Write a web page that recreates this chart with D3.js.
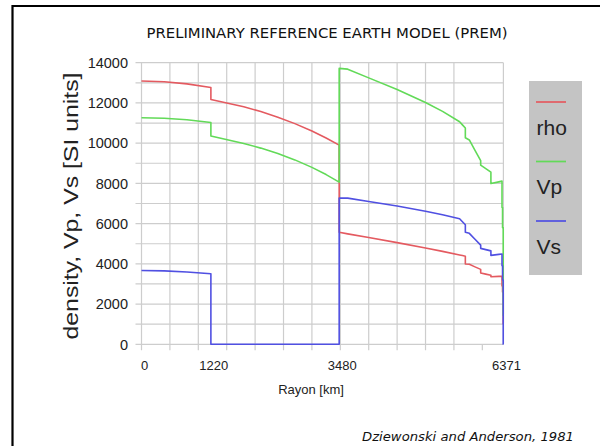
<!DOCTYPE html>
<html>
<head>
<meta charset="utf-8">
<script src="https://cdn.jsdelivr.net/npm/d3@7"></script>
<style>
  body { margin: 0; background: #fff; }
  svg { display: block; }
</style>
</head>
<body>
<svg id="chart" width="600" height="446"></svg>
<script>
// PREM samples (radius in km, values in SI units)
const radius = [0, 400, 800, 1221.5, 1221.5, 1800, 2100, 2400, 2700, 3000, 3250, 3480, 3480, 3630, 4000, 4500, 5000, 5300, 5600, 5650, 5701, 5701, 5771, 5871, 5971, 5971, 6061, 6151, 6151, 6291, 6346.6, 6346.6, 6356, 6356, 6368, 6368, 6371]
const rho = [13088, 13054, 12949, 12764, 12166, 11809, 11571, 11293, 10971, 10602, 10255, 9903, 5567, 5491, 5307, 5055, 4790, 4621, 4443, 4413, 4381, 3992, 3976, 3850, 3724, 3543, 3490, 3436, 3360, 3375, 3381, 2900, 2900, 2600, 2600, 1020, 1020]
const vp = [11262, 11237, 11162, 11028, 10356, 9986, 9754, 9484, 9168, 8796, 8438, 8065, 13717, 13680, 13245, 12665, 12025, 11578, 11066, 10910, 10751, 10266, 10158, 9646, 9134, 8905, 8732, 8559, 7990, 8076, 8111, 6800, 6800, 5800, 5800, 1450, 1450]
const vs = [3668, 3650, 3598, 3504, 0, 0, 0, 0, 0, 0, 0, 0, 7265, 7266, 7100, 6873, 6619, 6442, 6240, 6094, 5945, 5570, 5516, 5224, 4932, 4770, 4707, 4644, 4419, 4471, 4491, 3900, 3900, 3200, 3200, 0, 0]

const seriesNames = ['rho', 'Vp', 'Vs']
const seriesColors = ['#e45a60', '#62da58', '#5050e2']

const xLabelTicks = [0, 1220, 3480, 6371]
const yTicks = d3.range(0, 14001, 2000)

const svg = d3.select('#chart')

// frame
svg.append('path')
    .attr('d', 'M12.5,446 V6 H600')
    .attr('fill', 'none')
    .attr('stroke', '#000')
    .attr('stroke-width', 2.2)

let x = d3.scaleLinear().domain([0, 6371]).range([141.5, 503.4])
let y = d3.scaleLinear().domain([0, 14000]).range([344.3, 62.7])

const grid = svg.append('g')
    .attr('stroke', '#cdcdcd')
    .attr('stroke-width', 1.2)

// horizontal grid every 1000 (with small left tick)
grid.selectAll('.h')
    .data(d3.range(0, 14001, 1000))
    .enter()
    .append('line')
    .attr('x1', x(0) - 6)
    .attr('x2', x(6371))
    .attr('y1', d => y(d))
    .attr('y2', d => y(d))

// vertical grid every 500 km, ticks below axis
grid.selectAll('.v')
    .data(d3.range(0, 6001, 500))
    .enter()
    .append('line')
    .attr('x1', d => x(d))
    .attr('x2', d => x(d))
    .attr('y1', d => d > 5500 ? y(0) : y(14000))
    .attr('y2', y(0) + 6)

grid.append('line')
    .attr('x1', x(6371)).attr('x2', x(6371))
    .attr('y1', y(14000)).attr('y2', y(0))

// y tick labels
svg.append('g')
    .selectAll('text')
    .data(yTicks)
    .enter()
    .append('text')
    .attr('x', 128)
    .attr('y', d => y(d))
    .attr('dy', '0.36em')
    .attr('text-anchor', 'end')
    .style('font-family', 'Liberation Sans, Arial, sans-serif')
    .style('font-size', '14.5px')
    .style('fill', '#222')
    .text(d => d)

// x tick labels
svg.append('g')
    .selectAll('text')
    .data(xLabelTicks)
    .enter()
    .append('text')
    .attr('x', d => x(d) + 3)
    .attr('y', 369.5)
    .attr('text-anchor', 'middle')
    .style('font-family', 'Liberation Sans, Arial, sans-serif')
    .style('font-size', '13px')
    .style('fill', '#222')
    .text(d => d)

svg.append('text')
    .attr('x', 311)
    .attr('y', 394)
    .attr('text-anchor', 'middle')
    .style('font-family', 'Liberation Sans, Arial, sans-serif')
    .style('font-size', '13px')
    .style('fill', '#222')
    .text('Rayon [km]')

// y axis title
svg.append('text')
    .attr('transform', 'translate(78,206) rotate(-90)')
    .attr('text-anchor', 'middle')
    .attr('textLength', 267)
    .attr('lengthAdjust', 'spacingAndGlyphs')
    .style('font-family', 'Liberation Sans, Arial, sans-serif')
    .style('font-size', '21px')
    .style('fill', '#222')
    .text('density, Vp, Vs [SI units]')

// series lines
const series = [rho, vp, vs]
const line = d3.line()
    .x((d, i) => x(radius[i]))
    .y(d => y(d))

svg.append('g')
    .selectAll('path')
    .data(series)
    .enter()
    .append('path')
    .attr('d', d => line(d))
    .attr('fill', 'none')
    .attr('stroke', (d, i) => seriesColors[i])
    .attr('stroke-width', 1.6)
    .attr('stroke-linejoin', 'round')

// legend
const legend = svg.append('g')
legend.append('rect')
    .attr('x', 529).attr('y', 81)
    .attr('width', 53).attr('height', 194)
    .attr('fill', '#c4c4c4')

const entry = legend.selectAll('.entry')
    .data(seriesNames)
    .enter()
    .append('g')
    .attr('transform', (d, i) => `translate(0,${i * 59.5})`)

entry.append('line')
    .attr('x1', 536).attr('x2', 566)
    .attr('y1', 102).attr('y2', 102)
    .attr('stroke', (d, i) => seriesColors[i])
    .attr('stroke-width', 1.7)

entry.append('text')
    .attr('x', 536.5)
    .attr('y', 134.5)
    .style('font-family', 'Liberation Sans, Arial, sans-serif')
    .style('font-size', '21px')
    .style('fill', '#222')
    .text(d => d)

// title and credit
svg.append('text')
    .attr('x', 327)
    .attr('y', 38)
    .attr('text-anchor', 'middle')
    .attr('textLength', 361)
    .attr('lengthAdjust', 'spacingAndGlyphs')
    .style('font-family', 'DejaVu Sans, sans-serif')
    .style('font-size', '14px')
    .style('fill', '#111')
    .text('PRELIMINARY REFERENCE EARTH MODEL (PREM)')

svg.append('text')
    .attr('x', 362)
    .attr('y', 441)
    .attr('textLength', 212)
    .attr('lengthAdjust', 'spacingAndGlyphs')
    .style('font-family', 'DejaVu Sans, sans-serif')
    .style('font-style', 'italic')
    .style('font-size', '13px')
    .style('fill', '#111')
    .text('Dziewonski and Anderson, 1981')
</script>
</body>
</html>
